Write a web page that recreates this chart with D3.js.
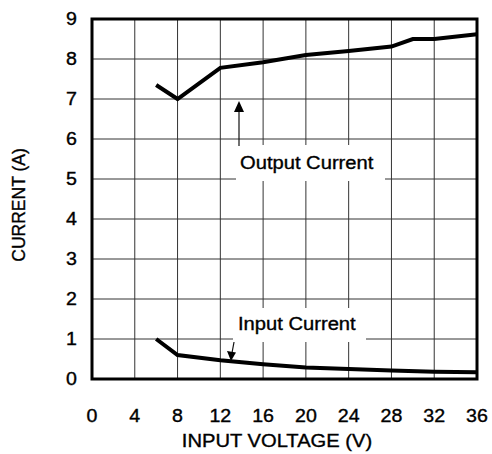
<!DOCTYPE html>
<html><head><meta charset="utf-8">
<script src="https://cdn.jsdelivr.net/npm/d3@7"></script>
<style>body{margin:0;background:#fff}svg{display:block}text{font-family:Arial,"Liberation Sans",sans-serif;fill:#000;stroke:#000;stroke-width:0.35px}</style>
</head><body>
<script>
const voltageOut = [6, 8, 12, 16, 20, 24, 28, 30, 32, 36];
const outputCurrent = [7.35, 7.0, 7.78, 7.92, 8.1, 8.2, 8.31, 8.5, 8.5, 8.62];
const voltageIn = [6, 8, 12, 16, 20, 24, 28, 32, 36];
const inputCurrent = [1.0, 0.6, 0.47, 0.37, 0.29, 0.25, 0.21, 0.18, 0.17];
const xTicks = [0, 4, 8, 12, 16, 20, 24, 28, 32, 36];
const yTicks = [0, 1, 2, 3, 4, 5, 6, 7, 8, 9];
const xTitle = "INPUT VOLTAGE (V)";
const yTitle = "CURRENT (A)";
const outLabel = "Output Current";
const inLabel = "Input Current";

const W = 492, H = 454;
const x = d3.scaleLinear().domain([0, 36]).range([92, 477]);
const y = d3.scaleLinear().domain([0, 9]).range([379, 19]);
const svg = d3.select("body").append("svg").attr("width", W).attr("height", H);
const HS = 1.12; // horizontal stretch of glyphs
function stretch(sel) {
  sel.each(function () {
    const w = this.getComputedTextLength();
    d3.select(this).attr("textLength", w * HS).attr("lengthAdjust", "spacingAndGlyphs");
  });
}

// grid
svg.append("g").selectAll("line.v").data(xTicks).join("line")
  .attr("x1", d => x(d)).attr("x2", d => x(d)).attr("y1", y(9)).attr("y2", y(0))
  .attr("stroke", "#333").attr("stroke-width", 1);
svg.append("g").selectAll("line.h").data(yTicks).join("line")
  .attr("x1", x(0)).attr("x2", x(36)).attr("y1", d => y(d)).attr("y2", d => y(d))
  .attr("stroke", "#333").attr("stroke-width", 1);

// label boxes
svg.append("rect").attr("x", 236).attr("y", 145).attr("width", 149).attr("height", 36).attr("fill", "#fff");
svg.append("rect").attr("x", 233).attr("y", 308).attr("width", 133).attr("height", 34).attr("fill", "#fff");

// arrows
svg.append("line").attr("x1", 239).attr("y1", 146).attr("x2", 239).attr("y2", 110).attr("stroke", "#111").attr("stroke-width", 1.2);
svg.append("path").attr("d", "M239,101 L234,112 L244,112 Z").attr("fill", "#000");
svg.append("line").attr("x1", 234).attr("y1", 342).attr("x2", 232).attr("y2", 353).attr("stroke", "#111").attr("stroke-width", 1.2);
svg.append("path").attr("d", "M231,361 L227,351 L236,352.5 Z").attr("fill", "#000");

// curves
const line = d3.line().x(d => x(d[0])).y(d => y(d[1]));
svg.append("path").datum(voltageOut.map((v, i) => [v, outputCurrent[i]]))
  .attr("d", line).attr("fill", "none").attr("stroke", "#000").attr("stroke-width", 4);
svg.append("path").datum(voltageIn.map((v, i) => [v, inputCurrent[i]]))
  .attr("d", line).attr("fill", "none").attr("stroke", "#000").attr("stroke-width", 4);

// frame
svg.append("rect").attr("x", x(0)).attr("y", y(9)).attr("width", x(36) - x(0)).attr("height", y(0) - y(9))
  .attr("fill", "none").attr("stroke", "#000").attr("stroke-width", 3);

// tick labels
svg.append("g").selectAll("text").data(xTicks).join("text")
  .attr("x", d => x(d)).attr("y", 422).attr("text-anchor", "middle").attr("font-size", 17.5)
  .text(d => d).call(stretch);
svg.append("g").selectAll("text").data(yTicks).join("text")
  .attr("x", 77).attr("y", d => y(d) + 6.3).attr("text-anchor", "end").attr("font-size", 17.5)
  .text(d => d).call(stretch);

// titles
svg.append("text").attr("x", 277).attr("y", 446.5).attr("text-anchor", "middle").attr("font-size", 18)
  .text(xTitle).call(stretch);
svg.append("text").attr("transform", "translate(25,205) rotate(-90)").attr("text-anchor", "middle").attr("font-size", 17.5)
  .text(yTitle);

// annotations
svg.append("text").attr("x", 240).attr("y", 169).attr("font-size", 18).text(outLabel).call(stretch);
svg.append("text").attr("x", 238).attr("y", 330).attr("font-size", 18).text(inLabel).call(stretch);
</script>
</body></html>
